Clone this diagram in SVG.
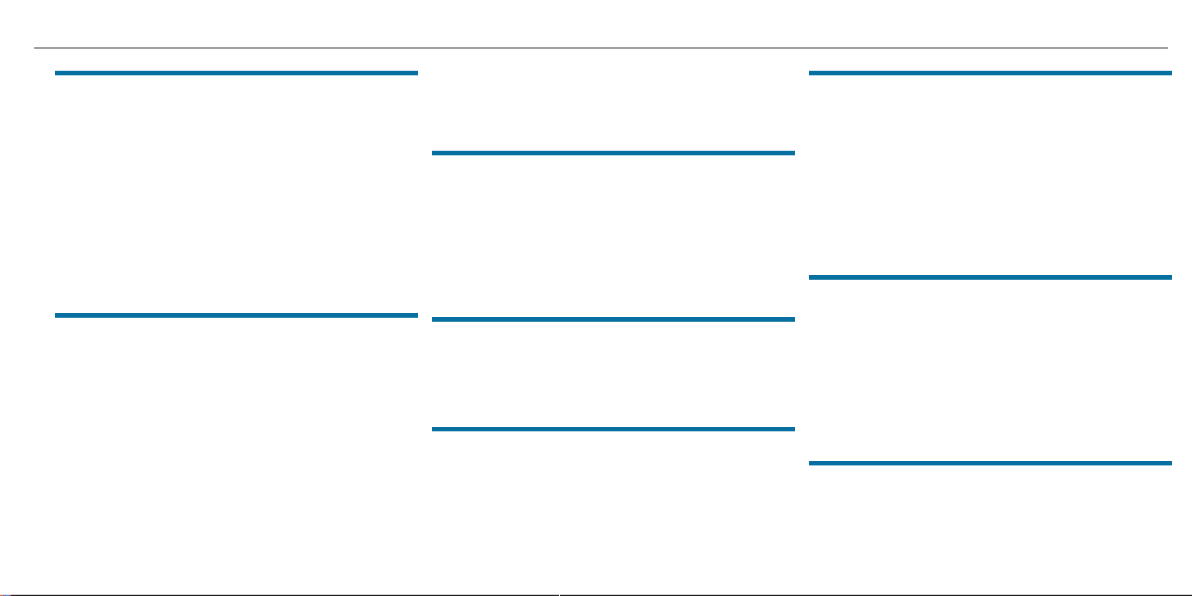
<svg xmlns="http://www.w3.org/2000/svg" width="1192" height="596" viewBox="0 0 1192 596">
<style>
.bar{fill:#0770a0}
.rule{fill:#7a7a7a}
.base{fill:#222222}
</style>
<rect width="1192" height="596" fill="#ffffff"/>
<rect class="rule" x="34" y="47.3" width="1134" height="1.4"/>
<g id="col1">
<rect class="bar" x="55" y="70.8" width="363" height="4.5"/>
<rect class="bar" x="55" y="313" width="363" height="4.8"/>
</g>
<g id="col2">
<rect class="bar" x="432" y="150.8" width="363" height="4.5"/>
<rect class="bar" x="432" y="317" width="363" height="4.8"/>
<rect class="bar" x="432" y="427" width="363" height="4.3"/>
</g>
<g id="col3">
<rect class="bar" x="809" y="70.8" width="363" height="4.5"/>
<rect class="bar" x="809" y="275" width="363" height="4.8"/>
<rect class="bar" x="809" y="461" width="363" height="4.4"/>
</g>
<rect class="base" x="11" y="594.8" width="548" height="1.2"/>
<rect class="base" x="560" y="594.8" width="632" height="1.2"/>
<rect x="0" y="594.8" width="3" height="1.2" fill="#c08040"/>
<rect x="3" y="594.8" width="3" height="1.2" fill="#8060c0"/>
<rect x="6" y="594.8" width="3" height="1.2" fill="#40a0c0"/>
<rect x="9" y="594.8" width="2" height="1.2" fill="#c04080"/>
</svg>
